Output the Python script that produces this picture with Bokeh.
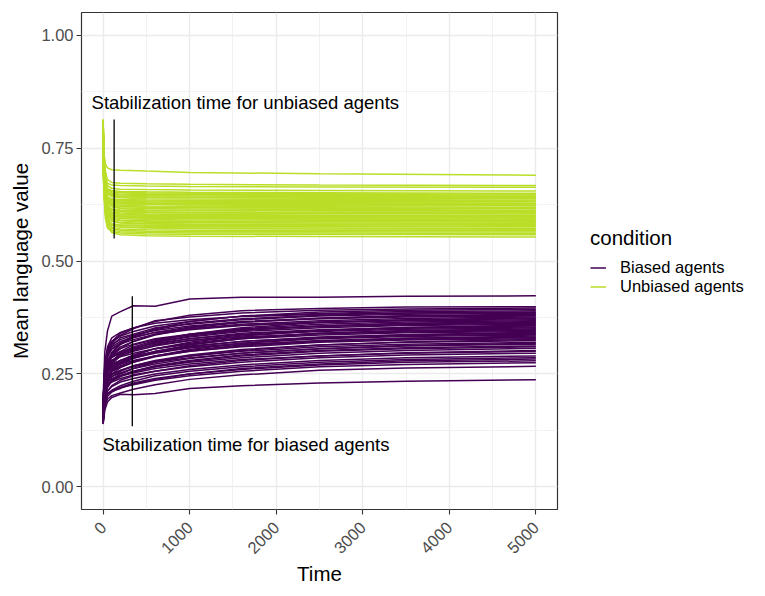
import math
from bokeh.plotting import figure
from bokeh.models import Range1d, FixedTicker, Legend, LegendItem
from bokeh.core.properties import value
from bokeh.embed import file_html
from bokeh.resources import INLINE

# ---------------- data ----------------
conditions = ["Biased agents", "Unbiased agents"]
colors = ["#440154", "#BADE28"]

x_ticks = [0, 1000, 2000, 3000, 4000, 5000]
x_minor = [500, 1500, 2500, 3500, 4500]
y_ticks = [0.0, 0.25, 0.5, 0.75, 1.0]
y_minor = [0.125, 0.375, 0.625, 0.875]
y_tick_labels = ["0.00", "0.25", "0.50", "0.75", "1.00"]

# sampled time points for unbiased runs
time_unbiased = [0, 10, 25, 50, 100, 200, 500, 1000, 2500, 5000]
unbiased_runs = [
    [0.780, 0.735, 0.715, 0.706, 0.702, 0.701, 0.699, 0.696, 0.693, 0.690],
    [0.810, 0.742, 0.700, 0.680, 0.674, 0.672, 0.671, 0.670, 0.668, 0.667],
    [0.760, 0.712, 0.686, 0.672, 0.668, 0.667, 0.666, 0.665, 0.664, 0.663],
    [0.795, 0.722, 0.684, 0.667, 0.661, 0.659, 0.658, 0.657, 0.656, 0.655],
    [0.740, 0.701, 0.672, 0.660, 0.656, 0.654, 0.653, 0.652, 0.651, 0.650],
    [0.735, 0.692, 0.666, 0.656, 0.653, 0.652, 0.651, 0.650, 0.649, 0.648],
    [0.814, 0.731, 0.682, 0.660, 0.653, 0.651, 0.649, 0.648, 0.647, 0.646],
    [0.802, 0.724, 0.676, 0.656, 0.650, 0.648, 0.647, 0.646, 0.645, 0.644],
    [0.720, 0.688, 0.663, 0.652, 0.648, 0.646, 0.645, 0.644, 0.643, 0.642],
    [0.768, 0.705, 0.665, 0.650, 0.645, 0.643, 0.642, 0.641, 0.641, 0.640],
    [0.775, 0.712, 0.668, 0.650, 0.645, 0.642, 0.641, 0.640, 0.639, 0.638],
    [0.800, 0.718, 0.670, 0.649, 0.642, 0.640, 0.638, 0.637, 0.636, 0.635],
    [0.725, 0.680, 0.652, 0.640, 0.637, 0.636, 0.635, 0.634, 0.634, 0.633],
    [0.705, 0.672, 0.650, 0.640, 0.636, 0.634, 0.633, 0.632, 0.632, 0.631],
    [0.790, 0.709, 0.662, 0.643, 0.636, 0.633, 0.631, 0.630, 0.629, 0.628],
    [0.805, 0.715, 0.662, 0.640, 0.633, 0.630, 0.629, 0.628, 0.628, 0.627],
    [0.750, 0.690, 0.651, 0.636, 0.631, 0.629, 0.628, 0.627, 0.626, 0.625],
    [0.742, 0.686, 0.648, 0.633, 0.628, 0.626, 0.625, 0.625, 0.624, 0.624],
    [0.812, 0.720, 0.664, 0.640, 0.631, 0.628, 0.626, 0.624, 0.623, 0.622],
    [0.730, 0.676, 0.643, 0.630, 0.625, 0.623, 0.622, 0.621, 0.620, 0.619],
    [0.795, 0.706, 0.654, 0.632, 0.624, 0.621, 0.619, 0.618, 0.618, 0.617],
    [0.785, 0.702, 0.655, 0.633, 0.625, 0.621, 0.619, 0.618, 0.617, 0.616],
    [0.765, 0.693, 0.648, 0.628, 0.621, 0.618, 0.616, 0.615, 0.614, 0.613],
    [0.722, 0.668, 0.635, 0.620, 0.615, 0.613, 0.612, 0.612, 0.611, 0.611],
    [0.808, 0.712, 0.657, 0.630, 0.620, 0.616, 0.613, 0.612, 0.611, 0.610],
    [0.712, 0.662, 0.632, 0.618, 0.613, 0.611, 0.609, 0.608, 0.608, 0.607],
    [0.778, 0.692, 0.642, 0.620, 0.612, 0.609, 0.608, 0.607, 0.607, 0.606],
    [0.795, 0.702, 0.648, 0.624, 0.614, 0.610, 0.607, 0.606, 0.605, 0.604],
    [0.745, 0.676, 0.634, 0.615, 0.608, 0.606, 0.604, 0.603, 0.602, 0.601],
    [0.810, 0.705, 0.644, 0.617, 0.607, 0.603, 0.602, 0.601, 0.600, 0.600],
    [0.780, 0.692, 0.641, 0.617, 0.607, 0.603, 0.601, 0.600, 0.599, 0.598],
    [0.738, 0.670, 0.628, 0.609, 0.602, 0.600, 0.599, 0.598, 0.598, 0.597],
    [0.725, 0.660, 0.623, 0.607, 0.601, 0.599, 0.597, 0.596, 0.596, 0.595],
    [0.785, 0.692, 0.637, 0.611, 0.600, 0.596, 0.595, 0.594, 0.593, 0.593],
    [0.812, 0.706, 0.646, 0.616, 0.603, 0.598, 0.595, 0.594, 0.593, 0.592],
    [0.760, 0.680, 0.632, 0.607, 0.597, 0.594, 0.592, 0.591, 0.590, 0.589],
    [0.752, 0.674, 0.625, 0.602, 0.593, 0.590, 0.589, 0.588, 0.588, 0.587],
    [0.700, 0.648, 0.614, 0.598, 0.592, 0.590, 0.588, 0.587, 0.587, 0.586],
    [0.790, 0.694, 0.636, 0.606, 0.594, 0.589, 0.586, 0.585, 0.584, 0.583],
    [0.798, 0.694, 0.630, 0.600, 0.589, 0.585, 0.583, 0.582, 0.582, 0.581],
    [0.770, 0.680, 0.626, 0.599, 0.588, 0.584, 0.582, 0.581, 0.580, 0.579],
    [0.715, 0.650, 0.609, 0.590, 0.582, 0.580, 0.579, 0.578, 0.578, 0.577],
    [0.735, 0.662, 0.614, 0.591, 0.582, 0.579, 0.577, 0.576, 0.576, 0.575],
    [0.762, 0.676, 0.618, 0.590, 0.579, 0.575, 0.574, 0.573, 0.573, 0.572],
    [0.805, 0.690, 0.626, 0.594, 0.580, 0.575, 0.573, 0.572, 0.571, 0.570],
    [0.788, 0.684, 0.619, 0.588, 0.575, 0.571, 0.569, 0.568, 0.568, 0.567],
    [0.755, 0.668, 0.610, 0.583, 0.572, 0.568, 0.566, 0.565, 0.565, 0.564],
    [0.745, 0.660, 0.605, 0.578, 0.568, 0.565, 0.563, 0.562, 0.562, 0.561],
    [0.718, 0.645, 0.596, 0.573, 0.565, 0.562, 0.560, 0.559, 0.559, 0.558],
    [0.785, 0.676, 0.610, 0.578, 0.563, 0.558, 0.556, 0.555, 0.554, 0.553],
]

# sampled time points for biased runs
time_biased = [0, 20, 50, 100, 200, 350, 600, 1000, 1600, 2500, 3500, 5000]
biased_runs = [
    [0.200, 0.300, 0.345, 0.378, 0.388, 0.401, 0.400, 0.416, 0.420, 0.420, 0.422, 0.423],
    [0.170, 0.262, 0.300, 0.322, 0.340, 0.352, 0.366, 0.380, 0.390, 0.395, 0.398, 0.399],
    [0.155, 0.248, 0.290, 0.318, 0.336, 0.350, 0.368, 0.376, 0.385, 0.391, 0.394, 0.396],
    [0.165, 0.240, 0.272, 0.295, 0.315, 0.332, 0.350, 0.366, 0.378, 0.387, 0.391, 0.393],
    [0.185, 0.270, 0.305, 0.322, 0.334, 0.344, 0.356, 0.366, 0.378, 0.384, 0.388, 0.390],
    [0.145, 0.230, 0.268, 0.298, 0.318, 0.334, 0.348, 0.362, 0.372, 0.380, 0.385, 0.387],
    [0.182, 0.275, 0.310, 0.330, 0.342, 0.352, 0.362, 0.370, 0.377, 0.382, 0.385, 0.386],
    [0.160, 0.252, 0.292, 0.312, 0.330, 0.338, 0.352, 0.360, 0.370, 0.378, 0.382, 0.384],
    [0.150, 0.232, 0.270, 0.292, 0.310, 0.322, 0.338, 0.352, 0.364, 0.374, 0.379, 0.382],
    [0.175, 0.255, 0.286, 0.306, 0.318, 0.330, 0.342, 0.354, 0.366, 0.373, 0.378, 0.380],
    [0.172, 0.262, 0.298, 0.316, 0.326, 0.336, 0.346, 0.356, 0.365, 0.372, 0.376, 0.378],
    [0.150, 0.228, 0.262, 0.290, 0.306, 0.322, 0.336, 0.350, 0.360, 0.368, 0.373, 0.376],
    [0.143, 0.215, 0.250, 0.274, 0.292, 0.306, 0.322, 0.338, 0.352, 0.364, 0.370, 0.374],
    [0.190, 0.262, 0.292, 0.305, 0.316, 0.326, 0.338, 0.348, 0.357, 0.365, 0.369, 0.372],
    [0.188, 0.268, 0.296, 0.310, 0.322, 0.332, 0.342, 0.350, 0.358, 0.364, 0.368, 0.370],
    [0.140, 0.218, 0.252, 0.278, 0.296, 0.310, 0.324, 0.338, 0.350, 0.360, 0.365, 0.368],
    [0.156, 0.228, 0.258, 0.278, 0.294, 0.306, 0.320, 0.334, 0.346, 0.356, 0.362, 0.366],
    [0.165, 0.240, 0.270, 0.290, 0.300, 0.314, 0.326, 0.336, 0.348, 0.356, 0.361, 0.364],
    [0.176, 0.250, 0.280, 0.296, 0.306, 0.316, 0.328, 0.338, 0.348, 0.355, 0.359, 0.362],
    [0.180, 0.250, 0.276, 0.288, 0.298, 0.306, 0.320, 0.332, 0.344, 0.352, 0.357, 0.360],
    [0.141, 0.208, 0.238, 0.258, 0.276, 0.290, 0.306, 0.320, 0.334, 0.346, 0.353, 0.358],
    [0.148, 0.222, 0.252, 0.272, 0.290, 0.302, 0.316, 0.328, 0.340, 0.348, 0.353, 0.356],
    [0.168, 0.242, 0.270, 0.286, 0.298, 0.308, 0.318, 0.328, 0.338, 0.346, 0.351, 0.354],
    [0.172, 0.236, 0.262, 0.280, 0.290, 0.300, 0.312, 0.324, 0.336, 0.344, 0.349, 0.352],
    [0.152, 0.218, 0.244, 0.260, 0.274, 0.286, 0.300, 0.314, 0.328, 0.340, 0.346, 0.350],
    [0.158, 0.226, 0.250, 0.266, 0.280, 0.292, 0.306, 0.318, 0.330, 0.340, 0.345, 0.348],
    [0.186, 0.252, 0.276, 0.288, 0.296, 0.304, 0.314, 0.324, 0.332, 0.339, 0.343, 0.346],
    [0.195, 0.252, 0.272, 0.280, 0.288, 0.296, 0.306, 0.316, 0.328, 0.336, 0.341, 0.344],
    [0.147, 0.206, 0.232, 0.250, 0.264, 0.276, 0.290, 0.304, 0.318, 0.330, 0.337, 0.342],
    [0.142, 0.210, 0.238, 0.256, 0.272, 0.284, 0.298, 0.310, 0.322, 0.332, 0.337, 0.340],
    [0.174, 0.236, 0.258, 0.270, 0.280, 0.290, 0.300, 0.312, 0.322, 0.330, 0.335, 0.338],
    [0.168, 0.228, 0.252, 0.266, 0.276, 0.286, 0.296, 0.308, 0.318, 0.328, 0.333, 0.336],
    [0.160, 0.222, 0.244, 0.256, 0.266, 0.276, 0.288, 0.300, 0.312, 0.322, 0.329, 0.334],
    [0.152, 0.216, 0.240, 0.256, 0.268, 0.278, 0.290, 0.302, 0.314, 0.324, 0.329, 0.332],
    [0.192, 0.246, 0.264, 0.272, 0.280, 0.288, 0.298, 0.308, 0.316, 0.323, 0.327, 0.330],
    [0.182, 0.236, 0.256, 0.264, 0.272, 0.280, 0.290, 0.300, 0.310, 0.320, 0.325, 0.328],
    [0.143, 0.198, 0.222, 0.238, 0.250, 0.262, 0.276, 0.290, 0.302, 0.314, 0.321, 0.326],
    [0.146, 0.204, 0.228, 0.244, 0.256, 0.268, 0.280, 0.292, 0.304, 0.314, 0.320, 0.324],
    [0.162, 0.214, 0.236, 0.248, 0.258, 0.268, 0.278, 0.290, 0.300, 0.310, 0.316, 0.320],
    [0.166, 0.218, 0.236, 0.244, 0.252, 0.262, 0.272, 0.284, 0.296, 0.306, 0.313, 0.318],
    [0.176, 0.224, 0.242, 0.250, 0.258, 0.266, 0.276, 0.286, 0.296, 0.306, 0.312, 0.316],
    [0.150, 0.200, 0.220, 0.234, 0.246, 0.256, 0.268, 0.280, 0.292, 0.302, 0.308, 0.312],
    [0.155, 0.205, 0.224, 0.234, 0.244, 0.254, 0.266, 0.278, 0.290, 0.300, 0.306, 0.310],
    [0.164, 0.208, 0.226, 0.236, 0.246, 0.256, 0.266, 0.276, 0.286, 0.296, 0.302, 0.307],
    [0.144, 0.192, 0.212, 0.224, 0.236, 0.246, 0.256, 0.268, 0.280, 0.290, 0.297, 0.302],
    [0.178, 0.220, 0.234, 0.240, 0.246, 0.252, 0.262, 0.272, 0.282, 0.290, 0.296, 0.300],
    [0.170, 0.210, 0.226, 0.232, 0.240, 0.248, 0.256, 0.266, 0.276, 0.286, 0.292, 0.296],
    [0.154, 0.196, 0.212, 0.222, 0.232, 0.240, 0.250, 0.260, 0.270, 0.280, 0.286, 0.290],
    [0.149, 0.190, 0.206, 0.214, 0.224, 0.234, 0.246, 0.256, 0.266, 0.276, 0.282, 0.286],
    [0.140, 0.182, 0.200, 0.210, 0.220, 0.230, 0.240, 0.250, 0.262, 0.272, 0.279, 0.283],
    [0.161, 0.194, 0.206, 0.212, 0.218, 0.228, 0.238, 0.250, 0.260, 0.270, 0.276, 0.279],
    [0.158, 0.192, 0.206, 0.212, 0.220, 0.226, 0.236, 0.246, 0.256, 0.266, 0.271, 0.275],
    [0.148, 0.180, 0.194, 0.202, 0.208, 0.216, 0.226, 0.238, 0.248, 0.258, 0.263, 0.267],
    [0.139, 0.170, 0.188, 0.198, 0.205, 0.204, 0.207, 0.218, 0.224, 0.230, 0.234, 0.237],
]

# stabilization markers
stab_time = [127, 337]
stab_low = [0.550, 0.134]
stab_high = [0.813, 0.422]
annot_text = ["Stabilization time for unbiased agents", "Stabilization time for biased agents"]
annot_x = [-134, -7]
annot_y = [0.851, 0.093]

FONT = "Liberation Sans"

# ---------------- figure ----------------
p = figure(frame_width=476, frame_height=497,
           min_border_left=81, min_border_top=12, min_border_bottom=71, min_border_right=192,
           x_range=Range1d(-250, 5250), y_range=Range1d(-0.05, 1.05),
           output_backend="svg", toolbar_location=None,
           background_fill_color="white", border_fill_color="white")

p.outline_line_color = "#333333"
p.outline_line_width = 1.2

p.xaxis.ticker = FixedTicker(ticks=x_ticks, minor_ticks=x_minor)
p.yaxis.ticker = FixedTicker(ticks=y_ticks, minor_ticks=y_minor)
p.yaxis.major_label_overrides = {t: lab for t, lab in zip(y_ticks, y_tick_labels)}

for g in (p.xgrid, p.ygrid):
    g.grid_line_color = "#EBEBEB"
    g.grid_line_width = 1.4
    g.minor_grid_line_color = "#F0F0F0"
    g.minor_grid_line_width = 0.9

for ax in (p.xaxis, p.yaxis):
    ax.axis_line_color = None
    ax.major_tick_line_color = "#333333"
    ax.major_tick_line_width = 1.1
    ax.major_tick_out = 5
    ax.major_tick_in = 0
    ax.minor_tick_line_color = None
    ax.major_label_text_font = FONT
    ax.major_label_text_font_size = "16.5px"
    ax.major_label_text_color = "#4D4D4D"
    ax.major_label_standoff = 3
    ax.axis_label_text_font = FONT
    ax.axis_label_text_font_size = "20.5px"
    ax.axis_label_text_font_style = "normal"
    ax.axis_label_text_color = "black"

p.xaxis.axis_label = "Time"
p.yaxis.axis_label = "Mean language value"
p.xaxis.major_label_orientation = math.pi / 4
p.xaxis.major_label_standoff = 10
p.yaxis.axis_label_standoff = 6
p.xaxis.axis_label_standoff = 0

# lines
r_b = p.multi_line(xs=[time_biased] * len(biased_runs), ys=biased_runs,
                   line_color=colors[0], line_width=1.5)
r_u = p.multi_line(xs=[time_unbiased] * len(unbiased_runs), ys=unbiased_runs,
                   line_color=colors[1], line_width=1.5)

p.segment(x0=stab_time, y0=stab_low, x1=stab_time, y1=stab_high,
          line_color="black", line_width=1.3)

p.text(x=annot_x, y=annot_y, text=annot_text, text_font=value(FONT),
       text_font_size="18.5px", text_color="black",
       text_align="left", text_baseline="alphabetic")

legend = Legend(items=[LegendItem(label=conditions[0], renderers=[r_b]),
                       LegendItem(label=conditions[1], renderers=[r_u])],
                location="center_left", orientation="vertical")
legend.title = "condition"
legend.title_text_font = FONT
legend.title_text_font_size = "20.5px"
legend.title_text_font_style = "normal"
legend.title_text_color = "black"
legend.title_standoff = 8
legend.label_text_font = FONT
legend.label_text_font_size = "16.5px"
legend.label_text_color = "black"
legend.glyph_width = 16
legend.glyph_height = 19
legend.label_height = 19
legend.label_standoff = 14
legend.spacing = 0
legend.padding = 10
legend.margin = 33
legend.border_line_color = None
legend.background_fill_alpha = 0
p.add_layout(legend, "right")

open("out.html", "w").write(file_html(p, INLINE))
